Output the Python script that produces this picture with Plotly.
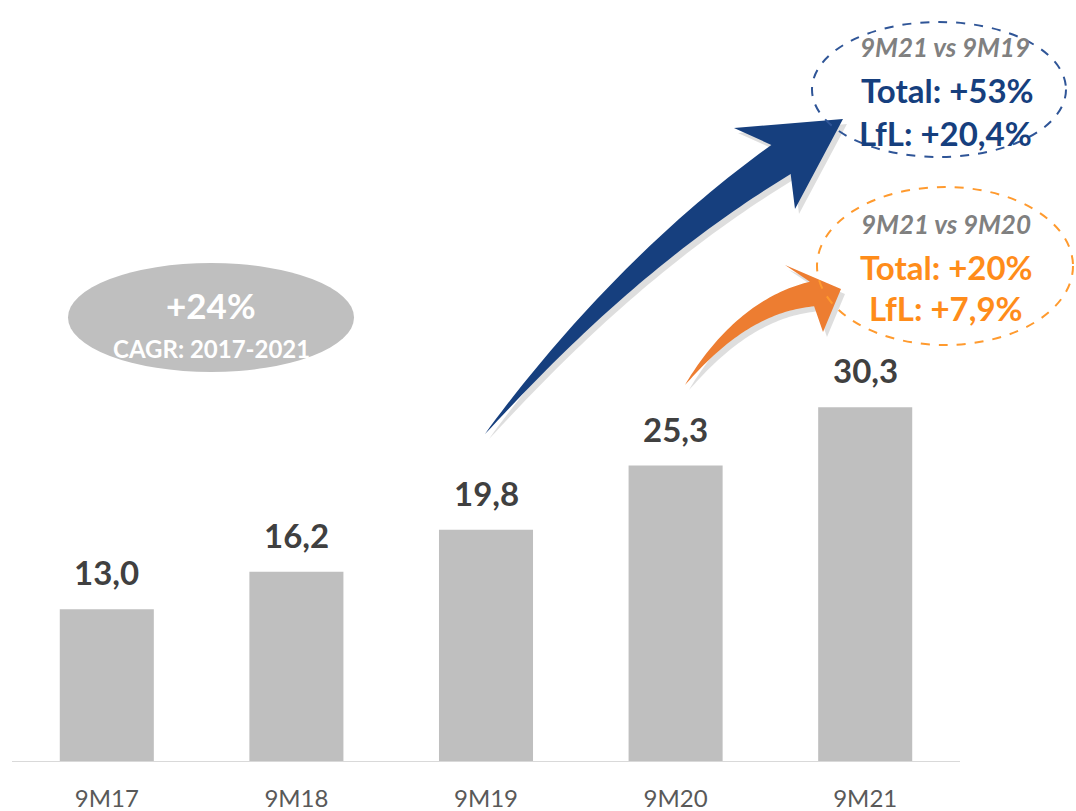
import plotly.graph_objects as go
import numpy as np

categories = ["9M17", "9M18", "9M19", "9M20", "9M21"]
values = [13.0, 16.2, 19.8, 25.3, 30.3]

cagr_main = "+24%"
cagr_sub = "CAGR: 2017-2021"
box1_title = "9M21 vs 9M19"
box1_lines = ["Total: +53%", "LfL: +20,4%"]
box2_title = "9M21 vs 9M20"
box2_lines = ["Total: +20%", "LfL: +7,9%"]

W, H = 1076, 811
L, R, T, B = 12, 116, 2, 50
PW, PH = W - L - R, H - T - B

FONT = "Lato"
BLUE = "#163F7E"
ORANGE = "#ED7D31"
ORANGE_TXT = "#FF8C1A"
GRAY_TXT = "#808080"


def P(x, y):
    return ((x - L) / PW, (H - B - y) / PH)


def arrow_path(p0, p1, p2, wmax, tip, barb_l, barb_r, off=(0, 0), n=50):
    p0, p1, p2 = map(np.array, (p0, p1, p2))
    s = np.linspace(0, 1, n)
    pts = ((1 - s)[:, None] ** 2) * p0 + (2 * (1 - s) * s)[:, None] * p1 + (s[:, None] ** 2) * p2
    der = 2 * (1 - s)[:, None] * (p1 - p0) + 2 * s[:, None] * (p2 - p1)
    der = der / np.linalg.norm(der, axis=1)[:, None]
    nrm = np.stack([der[:, 1], -der[:, 0]], axis=1)
    w = wmax * s ** 0.85 / 2
    up = pts + nrm * w[:, None]
    lo = pts - nrm * w[:, None]
    seq = list(up) + [np.array(barb_l), np.array(tip), np.array(barb_r)] + list(lo[::-1])
    d = ""
    for i, q in enumerate(seq):
        px, py = P(q[0] + off[0], q[1] + off[1])
        d += ("M" if i == 0 else "L") + f"{px:.5f},{py:.5f} "
    return d + "Z"


fig = go.Figure()
fig.add_trace(go.Bar(x=categories, y=values, marker=dict(color="#BFBFBF", line=dict(width=0)),
                     hoverinfo="skip"))

annotations = []
for c, v in zip(categories, values):
    annotations.append(dict(x=c, y=v, xref="x", yref="y", yanchor="bottom", yshift=15,
                            text=f"{v:.1f}".replace(".", ","), showarrow=False,
                            font=dict(family=FONT, size=33, color="#404040", weight="bold")))

shapes = []
# gray CAGR ellipse
x0, y0 = P(68, 372)
x1, y1 = P(354, 263)
shapes.append(dict(type="circle", xref="paper", yref="paper", x0=x0, y0=y0, x1=x1, y1=y1,
                   fillcolor="#BFBFBF", line=dict(width=0), layer="above"))

# arrows (shadow + arrow)
blue_arrow = dict(p0=(485, 434), p1=(626, 262), p2=(781, 159.5), wmax=35,
                  tip=(843, 119), barb_l=(734, 128), barb_r=(795, 209))
orange_arrow = dict(p0=(685, 385), p1=(742, 306), p2=(812, 294), wmax=25,
                    tip=(841, 289), barb_l=(785, 265), barb_r=(823, 332))
for a, col in ((blue_arrow, BLUE), (orange_arrow, ORANGE)):
    shapes.append(dict(type="path", xref="paper", yref="paper",
                       path=arrow_path(off=(4, 5), **a), fillcolor="rgba(0,0,0,0.13)",
                       line=dict(width=0), layer="above"))
    shapes.append(dict(type="path", xref="paper", yref="paper", path=arrow_path(**a),
                       fillcolor=col, line=dict(width=0), layer="above"))

# dashed ellipses
x0, y0 = P(812, 157)
x1, y1 = P(1066, 22)
shapes.append(dict(type="circle", xref="paper", yref="paper", x0=x0, y0=y0, x1=x1, y1=y1,
                   fillcolor="rgba(0,0,0,0)", line=dict(color="#2F5597", width=2, dash="dash"),
                   layer="above"))
x0, y0 = P(817, 345)
x1, y1 = P(1073, 187)
shapes.append(dict(type="circle", xref="paper", yref="paper", x0=x0, y0=y0, x1=x1, y1=y1,
                   fillcolor="rgba(0,0,0,0)", line=dict(color="#FF9A2E", width=2, dash="dash"),
                   layer="above"))


def txt(x, y, t, size, color, bold=True, italic=False):
    px, py = P(x, y)
    annotations.append(dict(x=px, y=py, xref="paper", yref="paper", xanchor="center",
                            yanchor="middle", text=t, showarrow=False,
                            font=dict(family=FONT, size=size, color=color,
                                      weight="bold" if bold else "normal",
                                      style="italic" if italic else "normal")))


txt(211, 305, cagr_main, 35, "white")
txt(211, 349, cagr_sub, 24, "white")

txt(945, 47, box1_title, 26, GRAY_TXT, italic=True)
txt(947, 90, box1_lines[0], 33, BLUE)
txt(945, 133, box1_lines[1], 33, BLUE)

txt(946, 224, box2_title, 26, GRAY_TXT, italic=True)
txt(946, 267, box2_lines[0], 33, ORANGE_TXT)
txt(946, 308, box2_lines[1], 33, ORANGE_TXT)

fig.update_layout(
    width=W, height=H,
    margin=dict(l=L, r=R, t=T, b=B),
    paper_bgcolor="white", plot_bgcolor="white",
    bargap=0.504, showlegend=False,
    xaxis=dict(type="category", showline=True, linecolor="#D9D9D9", linewidth=1,
               ticks="", showgrid=False, zeroline=False, ticklabelstandoff=16,
               automargin=False,
               tickfont=dict(family=FONT, size=24, color="#595959")),
    yaxis=dict(range=[0, 65], visible=False, showgrid=False, zeroline=False,
               automargin=False),
    annotations=annotations, shapes=shapes,
)

fig.write_html("out.html")
